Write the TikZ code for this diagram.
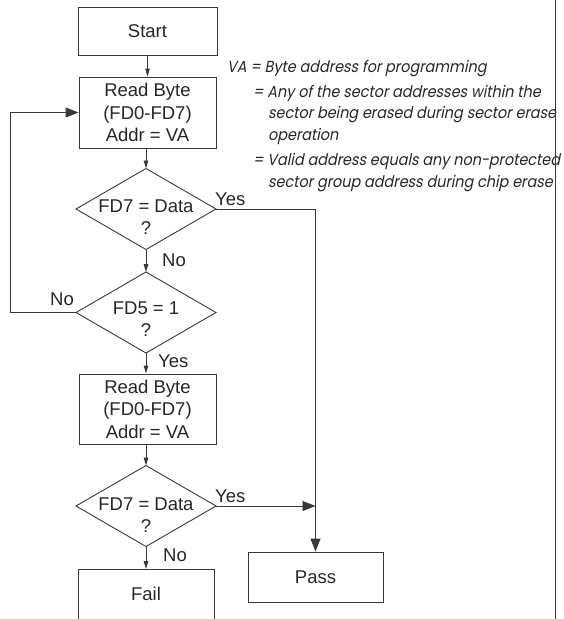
\documentclass[tikz,border=0pt]{standalone}
\usepackage{fontspec}
\setmainfont{Liberation Sans}
\newfontfamily\notefont[FakeSlant=0.2,FakeStretch=0.9]{Poppins}
\usetikzlibrary{shapes.geometric,arrows.meta}
\definecolor{linec}{gray}{0.22}
\definecolor{txtc}{gray}{0.15}
\newcommand{\mainsz}{\fontsize{18.5}{22.5}\selectfont}
\newcommand{\notesz}{\fontsize{16}{19}\notefont\selectfont}
\tikzset{
  box/.style={draw=linec, line width=0.9pt, rectangle, minimum width=137pt, inner sep=0pt, font=\mainsz, text=txtc, align=center},
  dec/.style={draw=linec, line width=0.9pt, diamond, minimum width=140pt, minimum height=81pt, inner sep=0pt, outer sep=0pt},
  dtext/.style={font=\fontsize{18.5}{22}\selectfont, text=txtc, align=center, inner sep=0pt},
  lbl/.style={font=\mainsz, text=txtc, inner sep=0pt},
  note/.style={font=\notesz, text=txtc, inner sep=0pt, anchor=base west},
  conn/.style={draw=linec, line width=0.9pt},
  sarrow/.style={conn, -{Triangle[length=8pt,width=4.5pt]}},
  barrow/.style={conn, -{Triangle[length=13pt,width=10pt]}},
}
\begin{document}
\begin{tikzpicture}[x=1pt,y=-1pt]
\useasboundingbox (0,0) rectangle (563,619);
% boxes
\node[box, minimum width=139pt, minimum height=48pt] (start) at (147.5,31) {Start};
\node[box, minimum height=71pt] (rb1) at (147.5,112.5) {Read Byte\\(FD0-FD7)\\Addr = VA};
\node[dec] (d1) at (146,209) {};
\node[dtext] (d1t) at (146,217.5) {FD7 = Data\\?};
\node[dec] (d2) at (146,312.5) {};
\node[dtext] (d2t) at (146,319.5) {FD5 = 1\\?};
\node[box, minimum height=70pt] (rb2) at (147.5,409) {Read Byte\\(FD0-FD7)\\Addr = VA};
\node[dec] (d3) at (146,506) {};
\node[dtext] (d3t) at (146,515) {FD7 = Data\\?};
\node[box, minimum width=136pt, minimum height=80pt, anchor=north] (fail) at (146,569) {};
\node[lbl, anchor=base] (failt) at (146,600) {Fail};
\node[box, minimum width=135pt, minimum height=50pt] (pass) at (315.5,577) {Pass};
% flow
\draw[sarrow] (start.south) -- (start.south |- rb1.north);
\draw[sarrow] (rb1.south -| d1.north) -- (d1.north);
\draw[sarrow] (d1.south) -- (d2.north);
\draw[sarrow] (d2.south) -- (d2.south |- rb2.north);
\draw[sarrow] (rb2.south -| d3.north) -- (d3.north);
\draw[sarrow] (d3.south) -- (d3.south |- fail.north);
% feedback loop
\coordinate (fbL) at (10,313);
\draw[barrow] (d2.west) -- (d2.west -| fbL) |- (rb1.west);
% yes paths
\draw[barrow] (d1.east) -| (pass.north);
\draw[barrow] (d3.east) -- (d3.east -| pass.north);
% labels
\node[lbl, anchor=base west] (y1) at (215,205) {Yes};
\node[lbl, anchor=base west] (n1) at (162,266) {No};
\node[lbl, anchor=base east] (n2) at (74,305) {No};
\node[lbl, anchor=base west] (y2) at (158,367) {Yes};
\node[lbl, anchor=base west] (y3) at (215,502) {Yes};
\node[lbl, anchor=base west] (n3) at (163,561) {No};
% note
\node[note] (t1) at (227,72) {VA = Byte address for programming};
\node[note] (t2) at (253,97) {= Any of the sector addresses within the};
\node[note] (t3) at (268,118) {sector being erased during sector erase};
\node[note] (t4) at (268,140) {operation};
\node[note] (t5) at (253,165) {= Valid address equals any non-protected};
\node[note] (t6) at (268,187) {sector group address during chip erase};
% right rule
\coordinate (rtop) at (555.5,0);
\coordinate (rbot) at (555.5,619);
\draw[draw=linec, line width=1.4pt] (rtop) -- (rbot);
\end{tikzpicture}
\end{document}
